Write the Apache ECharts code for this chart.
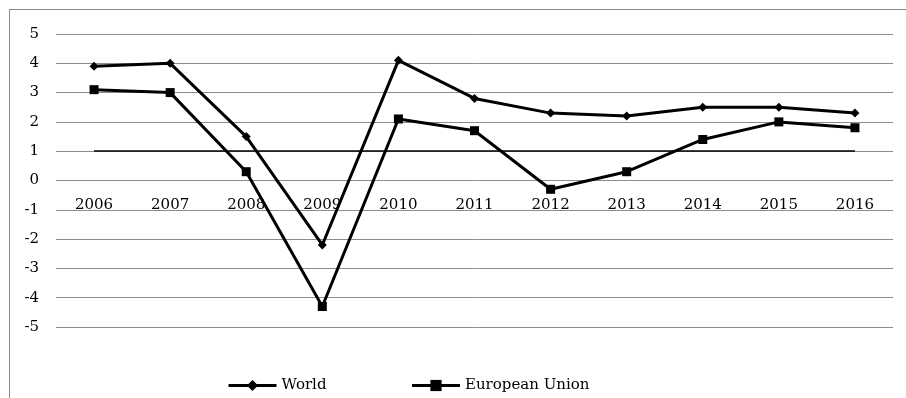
<!DOCTYPE html>
<html>
<head>
<meta charset="utf-8">
<script src="https://cdn.jsdelivr.net/npm/echarts@6/dist/echarts.min.js"></script>
<style>
  body { margin: 0; background: #fff; }
  #chart { width: 906px; height: 398px; }
  #frame {
    position: absolute; left: 9px; top: 9px; right: 0; bottom: 0;
    border-top: 1px solid #8a8a8a; border-left: 1px solid #8a8a8a;
    pointer-events: none;
  }
</style>
</head>
<body>
<div id="chart"></div>
<div id="frame"></div>
<script>
// categories
const years = ["2006", "2007", "2008", "2009", "2010", "2011", "2012", "2013", "2014", "2015", "2016"];
// series values
const worldValues = [3.9, 4.0, 1.5, -2.2, 4.1, 2.8, 2.3, 2.2, 2.5, 2.5, 2.3];
const euValues = [3.1, 3.0, 0.3, -4.3, 2.1, 1.7, -0.3, 0.3, 1.4, 2.0, 1.8];
// reference line value
const refLevel = 1;

const fontFamily = "'DejaVu Serif', 'Liberation Serif', serif";

const chart = echarts.init(document.getElementById("chart"));

const option = {
  animation: false,
  textStyle: { fontFamily: fontFamily, color: "#000" },
  grid: {
    left: 56,
    right: 13,
    top: 34,
    bottom: 71,
  },
  legend: {
    left: 222,
    top: 373,
    itemWidth: 48,
    itemHeight: 14,
    itemGap: 84,
    lineStyle: { width: 3 },
    textStyle: { fontFamily: fontFamily, fontSize: 15, color: "#000" },
    data: ["World", "European Union"],
  },
  xAxis: {
    type: "category",
    data: years,
    boundaryGap: true,
    position: "bottom",
    // labels sit just under the zero line, like the original
    offset: -146,
    axisLine: { show: false },
    axisTick: { show: false },
    axisLabel: { margin: 17, fontSize: 15, color: "#000", fontFamily: fontFamily },
  },
  yAxis: {
    type: "value",
    min: -5,
    max: 5,
    interval: 1,
    axisLine: { show: false },
    axisTick: { show: false },
    axisLabel: { margin: 17, fontSize: 15, color: "#000", fontFamily: fontFamily },
    splitLine: { lineStyle: { color: "#8c8c8c", width: 1 } },
  },
  series: [
    {
      name: "World",
      type: "line",
      data: worldValues,
      symbol: "diamond",
      symbolSize: 9,
      lineStyle: { color: "#000", width: 3 },
      itemStyle: { color: "#000" },
      z: 3,
      markLine: {
        silent: true,
        symbol: "none",
        label: { show: false },
        lineStyle: { color: "#000", width: 1.5, type: "solid" },
        data: [[{ coord: [years[0], refLevel] }, { coord: [years[years.length - 1], refLevel] }]],
      },
    },
    {
      name: "European Union",
      type: "line",
      data: euValues,
      symbol: "rect",
      symbolSize: 9,
      lineStyle: { color: "#000", width: 3 },
      itemStyle: { color: "#000" },
      z: 3,
    },
  ],
};

chart.setOption(option);
</script>
</body>
</html>
